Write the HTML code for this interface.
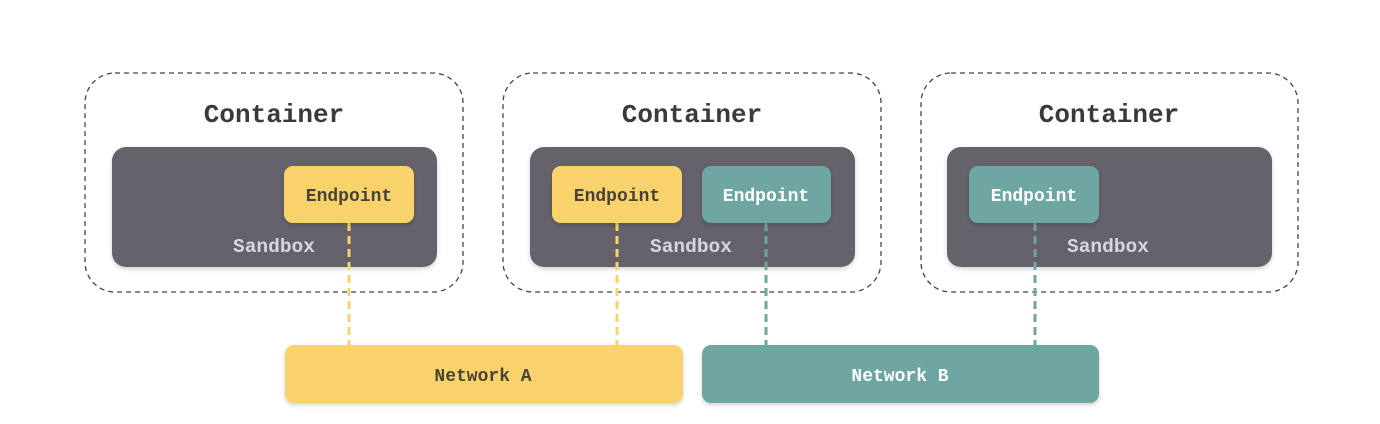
<!DOCTYPE html>
<html><head><style>
html,body{margin:0;padding:0;background:#fff;}
svg{display:block;}
text{font-family:"Liberation Mono","DejaVu Sans Mono",monospace;font-weight:bold;text-anchor:middle;}
</style></head><body>
<svg width="1380" height="424" viewBox="0 0 1380 424" xmlns="http://www.w3.org/2000/svg">
<defs><filter id="sh" x="-10%" y="-10%" width="120%" height="130%"><feDropShadow dx="0" dy="2" stdDeviation="2" flood-color="#000" flood-opacity="0.18"/></filter></defs>
<g fill="none" stroke="#444" stroke-width="1.3" stroke-dasharray="5,4">
<rect x="85" y="73" width="378" height="219" rx="30"/>
<rect x="503" y="73" width="378" height="219" rx="30"/>
<rect x="921" y="73" width="377" height="219" rx="30"/>
</g>
<g font-size="26" fill="#3a3a3a">
<text x="274" y="122">Container</text>
<text x="692" y="122">Container</text>
<text x="1109" y="122">Container</text>
</g>
<g fill="#65626c" filter="url(#sh)">
<rect x="112" y="147" width="325" height="120" rx="14"/>
<rect x="530" y="147" width="325" height="120" rx="14"/>
<rect x="947" y="147" width="325" height="120" rx="14"/>
</g>
<g font-size="19.5" fill="#d8d6dc">
<text x="274" y="252">Sandbox</text>
<text x="691" y="252">Sandbox</text>
<text x="1108" y="252">Sandbox</text>
</g>
<g stroke-width="3" stroke-dasharray="8,5">
<line x1="349" y1="223" x2="349" y2="345" stroke="#f8d36c"/>
<line x1="617" y1="223" x2="617" y2="345" stroke="#f8d36c"/>
<line x1="766" y1="223" x2="766" y2="345" stroke="#6ea6a2"/>
<line x1="1035" y1="223" x2="1035" y2="345" stroke="#6ea6a2"/>
</g>
<g filter="url(#sh)">
<rect x="284" y="166" width="130" height="57" rx="9" fill="#f8d36c"/>
<rect x="552" y="166" width="130" height="57" rx="9" fill="#f8d36c"/>
<rect x="702" y="166" width="129" height="57" rx="9" fill="#6ea6a2"/>
<rect x="969" y="166" width="130" height="57" rx="9" fill="#6ea6a2"/>
<rect x="285" y="345" width="398" height="58" rx="9" fill="#f8d36c"/>
<rect x="702" y="345" width="397" height="58" rx="9" fill="#6ea6a2"/>
</g>
<g font-size="18">
<text x="349" y="201" fill="#4a4238">Endpoint</text>
<text x="617" y="201" fill="#4a4238">Endpoint</text>
<text x="766" y="201" fill="#fff">Endpoint</text>
<text x="1034" y="201" fill="#fff">Endpoint</text>
<text x="483" y="381" fill="#4a4238">Network A</text>
<text x="900" y="381" fill="#fff">Network B</text>
</g>
</svg>
</body></html>
